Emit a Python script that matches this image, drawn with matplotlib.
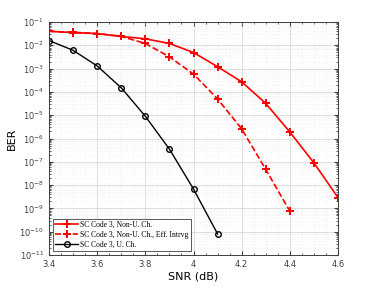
import matplotlib
matplotlib.use("Agg")
import matplotlib.pyplot as plt
from matplotlib.ticker import LogLocator, MultipleLocator, NullFormatter

snr_nonu = [3.4, 3.5, 3.6, 3.7, 3.8, 3.9, 4.0, 4.1, 4.2, 4.3, 4.4, 4.5, 4.6]
ber_nonu = [4.0e-2, 3.5e-2, 3.2e-2, 2.4e-2, 1.9e-2, 1.2e-2, 4.9e-3, 1.2e-3, 2.7e-4, 3.2e-5, 1.9e-6, 9.0e-8, 2.9e-9]

snr_intrvg = [3.4, 3.5, 3.6, 3.7, 3.8, 3.9, 4.0, 4.1, 4.2, 4.3, 4.4]
ber_intrvg = [4.0e-2, 3.6e-2, 3.2e-2, 2.4e-2, 1.2e-2, 3.2e-3, 5.8e-4, 5.0e-5, 2.6e-6, 4.7e-8, 7.6e-10]

snr_u = [3.4, 3.5, 3.6, 3.7, 3.8, 3.9, 4.0, 4.1]
ber_u = [1.6e-2, 6.1e-3, 1.3e-3, 1.5e-4, 9.0e-6, 3.5e-7, 6.8e-9, 8.0e-11]

labels = ["SC Code 3, Non-U. Ch.", "SC Code 3, Non-U. Ch., Eff. Intrvg", "SC Code 3, U. Ch."]

fig = plt.figure(figsize=(3.74, 2.88), dpi=100)
ax = fig.add_axes([49 / 374, 1 - 255 / 288, (338 - 49) / 374, (255 - 22) / 288])

ax.semilogy(snr_nonu, ber_nonu, "-", color="red", lw=1.2, marker="+", ms=6, mew=1.4, label=labels[0])
ax.semilogy(snr_intrvg, ber_intrvg, "--", color="red", lw=1.2, marker="+", ms=6, mew=1.4, label=labels[1])
ax.semilogy(snr_u, ber_u, "-", color="black", lw=1.0, marker="o", ms=4, mfc="none", mew=1.0, label=labels[2])

ax.set_xlim(3.4, 4.6)
ax.set_ylim(1e-11, 1e-1)
ax.xaxis.set_major_locator(MultipleLocator(0.2))
ax.xaxis.set_minor_locator(MultipleLocator(0.05))
ax.yaxis.set_major_locator(LogLocator(base=10, numticks=20))
ax.yaxis.set_minor_locator(LogLocator(base=10, subs=range(2, 10), numticks=20))
ax.yaxis.set_minor_formatter(NullFormatter())
ax.set_xticklabels([f"{v:g}" for v in ax.get_xticks()])

ax.grid(True, which="major", color="#d9d9d9", lw=0.6)
ax.grid(True, which="minor", color="#e6e6e6", lw=0.4, ls=":")
ax.tick_params(which="both", direction="in", top=True, right=True, labelsize=6, colors="#404040", labelcolor="#404040")
ax.tick_params(which="major", length=3)
ax.tick_params(which="minor", length=1.5)
for s in ax.spines.values():
    s.set_color("#404040")
    s.set_linewidth(0.7)

ax.set_xlabel("SNR (dB)", fontsize=8, labelpad=2)
ax.set_ylabel("BER", fontsize=8, labelpad=2)

leg = ax.legend(loc="lower left", prop={"family": "Liberation Serif", "size": 5.5},
                fancybox=False, edgecolor="#404040", framealpha=1, handlelength=3,
                borderpad=0.3, labelspacing=0.25, handletextpad=0.3)
leg.get_frame().set_linewidth(0.6)

fig.savefig("out.png", dpi=100)
